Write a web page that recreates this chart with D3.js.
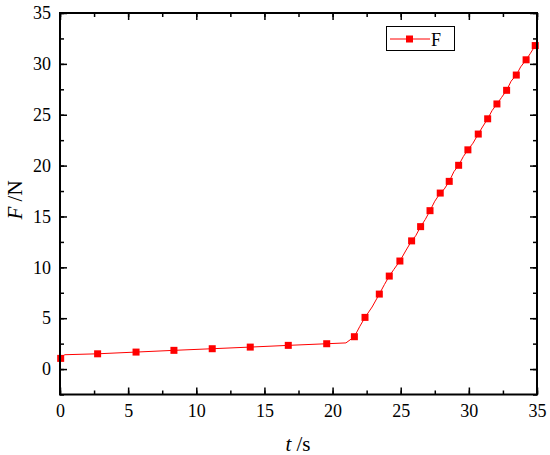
<!DOCTYPE html>
<html><head><meta charset="utf-8">
<script src="https://cdn.jsdelivr.net/npm/d3@7"></script>
<style>html,body{margin:0;padding:0;background:#fff;}svg{display:block;}</style>
</head><body>
<script>
// Marker data
const markerT = [0.05, 2.76, 5.58, 8.36, 11.17, 13.96, 16.75, 19.57, 21.6, 22.38, 23.43, 24.16, 24.94, 25.8, 26.46, 27.15, 27.9, 28.56, 29.25, 29.93, 30.69, 31.38, 32.06, 32.77, 33.48, 34.2, 34.87];
const markerF = [1.05, 1.5, 1.67, 1.84, 2.0, 2.16, 2.33, 2.49, 3.18, 5.08, 7.37, 9.14, 10.62, 12.6, 14.0, 15.57, 17.3, 18.45, 20.03, 21.55, 23.1, 24.6, 26.06, 27.4, 28.9, 30.4, 31.8];
// Line data (denser path, including kink points)
const lineT = [0.0, 0.35, 2.76, 5.58, 8.36, 11.17, 13.96, 16.75, 19.57, 20.98, 21.6, 22.0, 22.38, 22.9, 23.43, 23.8, 24.16, 24.5, 24.94, 25.4, 25.8, 26.1, 26.46, 26.8, 27.15, 27.5, 27.9, 28.2, 28.56, 28.9, 29.25, 29.6, 29.93, 30.3, 30.69, 31.0, 31.38, 31.7, 32.06, 32.4, 32.77, 33.1, 33.48, 33.8, 34.2, 34.5, 34.87];
const lineF = [1.05, 1.41, 1.5, 1.67, 1.84, 2.0, 2.16, 2.33, 2.49, 2.57, 3.18, 4.2, 5.08, 6.1, 7.37, 8.3, 9.14, 9.8, 10.62, 11.7, 12.6, 13.1, 14.0, 14.7, 15.57, 16.5, 17.3, 17.7, 18.45, 19.4, 20.03, 20.9, 21.55, 22.2, 23.1, 23.8, 24.6, 25.4, 26.06, 26.7, 27.4, 28.3, 28.9, 29.7, 30.4, 31.0, 31.8];
const xTicks = [0, 5, 10, 15, 20, 25, 30, 35];
const yTicks = [0, 5, 10, 15, 20, 25, 30, 35];
const seriesName = "F";

const W = 550, H = 455;
const m = {left: 60, right: 537, top: 13, bottom: 394.5};
const svg = d3.select("body").append("svg").attr("width", W).attr("height", H);
const x = d3.scaleLinear().domain([0, 35]).range([m.left, m.right]);
const y = d3.scaleLinear().domain([-2.5, 35]).range([m.bottom, m.top]);
const font = "Liberation Serif, Times New Roman, serif";

// data line
const pts = lineT.map((t, i) => [t, lineF[i]]);
svg.append("path").datum(pts)
  .attr("d", d3.line().x(d => x(d[0])).y(d => y(d[1])))
  .attr("fill", "none").attr("stroke", "#ff0000").attr("stroke-width", 1);
const ms = 7;
svg.append("g").selectAll("rect").data(markerT.map((t, i) => [t, markerF[i]])).join("rect")
  .attr("x", d => x(d[0]) - ms / 2).attr("y", d => y(d[1]) - ms / 2)
  .attr("width", ms).attr("height", ms).attr("fill", "#ff0000");

// axes
const minorX = d3.range(0, 35.01, 2.5);
const minorY = d3.range(-2.5, 35.01, 2.5);
function styleAxis(g) {
  g.attr("font-family", font).attr("font-size", 18);
  g.select(".domain").remove();
  g.selectAll("line").attr("stroke", "#000").attr("stroke-width", 1.5);
  g.selectAll("text").style("font-family", font).style("font-size", "18px").attr("fill", "#000");
}
// bottom
svg.append("g").attr("transform", `translate(0,${m.bottom})`)
  .call(d3.axisBottom(x).tickValues(minorX).tickSize(-4).tickFormat(""))
  .call(styleAxis);
svg.append("g").attr("transform", `translate(0,${m.bottom})`)
  .call(d3.axisBottom(x).tickValues(xTicks).tickSize(-7).tickPadding(10).tickFormat(d3.format("d")))
  .call(styleAxis);
// top
svg.append("g").attr("transform", `translate(0,${m.top})`)
  .call(d3.axisTop(x).tickValues(minorX).tickSize(-4).tickFormat("")).call(styleAxis);
svg.append("g").attr("transform", `translate(0,${m.top})`)
  .call(d3.axisTop(x).tickValues(xTicks).tickSize(-7).tickFormat("")).call(styleAxis);
// left
svg.append("g").attr("transform", `translate(${m.left},0)`)
  .call(d3.axisLeft(y).tickValues(minorY).tickSize(-4).tickFormat("")).call(styleAxis);
svg.append("g").attr("transform", `translate(${m.left},0)`)
  .call(d3.axisLeft(y).tickValues(yTicks).tickSize(-7).tickPadding(9).tickFormat(d3.format("d")))
  .call(styleAxis);
// right
svg.append("g").attr("transform", `translate(${m.right},0)`)
  .call(d3.axisRight(y).tickValues(minorY).tickSize(-4).tickFormat("")).call(styleAxis);
svg.append("g").attr("transform", `translate(${m.right},0)`)
  .call(d3.axisRight(y).tickValues(yTicks).tickSize(-7).tickFormat("")).call(styleAxis);

// frame
svg.append("rect").attr("x", m.left).attr("y", m.top)
  .attr("width", m.right - m.left).attr("height", m.bottom - m.top)
  .attr("fill", "none").attr("stroke", "#000").attr("stroke-width", 2);

// axis titles
const xt = svg.append("text").attr("x", 298).attr("y", 451).attr("text-anchor", "middle")
  .style("font-family", font).style("font-size", "21px");
xt.append("tspan").attr("font-style", "italic").text("t");
xt.append("tspan").text(" /s");
const yt = svg.append("text").attr("transform", "translate(22,200) rotate(-90)").attr("text-anchor", "middle")
  .style("font-family", font).style("font-size", "21px");
yt.append("tspan").attr("font-style", "italic").text("F");
yt.append("tspan").text(" /N");

// legend
const lg = svg.append("g");
lg.append("rect").attr("x", 386.5).attr("y", 26.5).attr("width", 68).attr("height", 24)
  .attr("fill", "#fff").attr("stroke", "#000").attr("stroke-width", 1);
lg.append("line").attr("x1", 390).attr("x2", 430).attr("y1", 39).attr("y2", 39)
  .attr("stroke", "#ff0000").attr("stroke-width", 1);
lg.append("rect").attr("x", 409.5 - ms / 2).attr("y", 39 - ms / 2).attr("width", ms).attr("height", ms).attr("fill", "#ff0000");
lg.append("text").attr("x", 431).attr("y", 45.5).style("font-family", font).style("font-size", "18px").text(seriesName);
</script>
</body></html>
